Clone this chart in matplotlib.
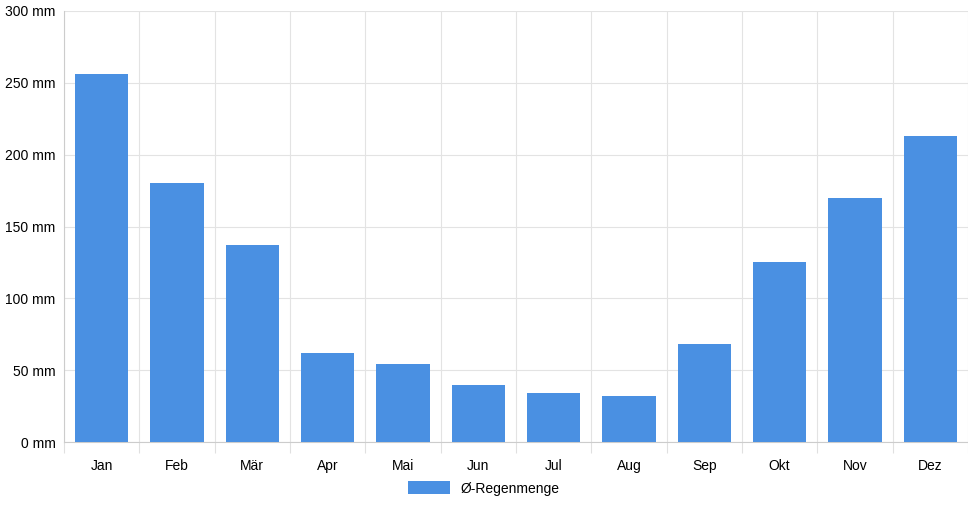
import matplotlib
matplotlib.use("Agg")
import matplotlib.pyplot as plt

months = ["Jan","Feb","Mär","Apr","Mai","Jun","Jul","Aug","Sep","Okt","Nov","Dez"]
rain = [256, 180, 137, 62, 54, 40, 34, 32, 68, 125, 170, 213]
yticks = [0, 50, 100, 150, 200, 250, 300]

fig = plt.figure(figsize=(9.68, 5.08), dpi=100)
ax = fig.add_axes([64/968, 1-442/508, 904/968, 431/508])
x = range(len(months))
ax.bar(x, rain, width=0.71, color="#4a90e2", label="Ø-Regenmenge", zorder=3)
ax.set_xlim(-0.5, len(months)-0.5)
ax.set_ylim(0, 300)
ax.set_yticks(yticks)
ax.set_yticklabels([f"{v} mm" for v in yticks], fontsize=10, family="Liberation Sans")
ax.set_xticks([i+0.5 for i in range(-1, len(months))], minor=False)
ax.set_xticklabels([])
ax.set_xticks(list(x), minor=True)
ax.set_xticklabels(months, minor=True, fontsize=10, family="Liberation Sans")
ax.tick_params(axis="x", which="major", length=8, color="#e0e0e0")
ax.tick_params(axis="x", which="minor", length=0, pad=12)
ax.tick_params(axis="y", length=0, pad=6)
ax.grid(True, which="major", color="#e3e3e3", linewidth=0.8, zorder=0)
for s in ["top", "right"]:
    ax.spines[s].set_visible(False)
ax.spines["left"].set_color("#cccccc")
ax.spines["bottom"].set_color("#cccccc")
fig.legend(loc="lower center", bbox_to_anchor=(0.5, 0.0), frameon=False,
           prop={"family": "Liberation Sans", "size": 10}, handlelength=3, handleheight=1.1)
fig.savefig("out.png", dpi=100)
